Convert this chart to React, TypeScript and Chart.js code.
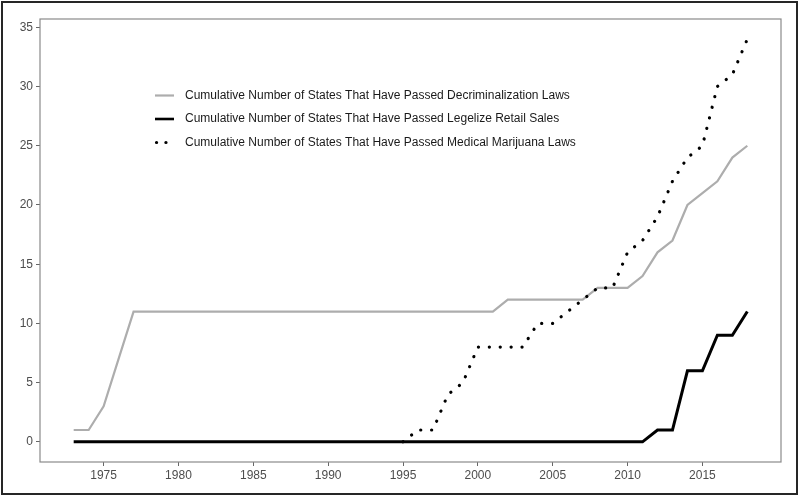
import { useEffect, useRef } from 'react';
import { Chart, registerables } from 'chart.js';

Chart.register(...registerables);

const years = [
  1973, 1974, 1975, 1976, 1977, 1978, 1979, 1980, 1981, 1982, 1983, 1984,
  1985, 1986, 1987, 1988, 1989, 1990, 1991, 1992, 1993, 1994, 1995, 1996,
  1997, 1998, 1999, 2000, 2001, 2002, 2003, 2004, 2005, 2006, 2007, 2008,
  2009, 2010, 2011, 2012, 2013, 2014, 2015, 2016, 2017, 2018,
];

const decriminalization = [
  1, 1, 3, 7,
  11, 11, 11, 11, 11, 11, 11, 11, 11, 11, 11, 11, 11, 11, 11, 11, 11, 11, 11, 11, 11, 11, 11, 11, 11,
  12, 12, 12, 12, 12, 12,
  13, 13, 13,
  14, 16, 17, 20, 21, 22, 24, 25,
];

const retailSales = [
  0, 0, 0, 0, 0, 0, 0, 0, 0, 0, 0, 0, 0, 0, 0, 0, 0, 0, 0, 0,
  0, 0, 0, 0, 0, 0, 0, 0, 0, 0, 0, 0, 0, 0, 0, 0, 0, 0, 0,
  1, 1, 6, 6, 9, 9, 11,
];

const medicalMarijuana: (number | null)[] = [
  null, null, null, null, null, null, null, null, null, null, null,
  null, null, null, null, null, null, null, null, null, null, null,
  0, 1, 1, 4, 5, 8, 8, 8, 8, 10, 10, 11, 12, 13, 13, 16, 17, 19, 22, 24, 25, 30, 31, 34,
];

const seriesLabels = [
  'Cumulative Number of States That Have Passed Decriminalization Laws',
  'Cumulative Number of States That Have Passed Legelize Retail Sales',
  'Cumulative Number of States That Have Passed Medical Marijuana Laws',
];

const xTickValues = [1975, 1980, 1985, 1990, 1995, 2000, 2005, 2010, 2015];
const yTickValues = [0, 5, 10, 15, 20, 25, 30, 35];

const FONT = '"Liberation Sans", Arial, Helvetica, sans-serif';

const toPoints = (vals: (number | null)[]) =>
  years.map((yr, i) => ({ x: yr, y: vals[i] }));

const framePlugin = {
  id: 'frameAndLegend',
  afterDraw(chart: any) {
    const { ctx, chartArea } = chart;
    ctx.save();
    // panel border
    ctx.strokeStyle = '#8a8a8a';
    ctx.lineWidth = 1.2;
    ctx.strokeRect(chartArea.left, chartArea.top, chartArea.right - chartArea.left, chartArea.bottom - chartArea.top);
    // outer frame
    ctx.strokeStyle = '#262626';
    ctx.lineWidth = 2;
    ctx.strokeRect(2, 2, 795, 492);

    // legend inside panel
    const x0 = chartArea.left + 115;
    const y0 = chartArea.top + 76.5;
    const rowGap = 23.5;
    chart.data.datasets.forEach((ds: any, i: number) => {
      const y = y0 + i * rowGap;
      ctx.beginPath();
      ctx.strokeStyle = ds.borderColor;
      ctx.lineWidth = ds.legendWidth;
      ctx.lineCap = ds.borderCapStyle || 'butt';
      if (ds.borderDash && ds.borderDash.length) {
        ctx.setLineDash([0.1, 9.3]);
        ctx.moveTo(x0 + 1.5, y);
      } else {
        ctx.setLineDash([]);
        ctx.moveTo(x0, y);
      }
      ctx.lineTo(x0 + 19, y);
      ctx.stroke();
      ctx.setLineDash([]);
      ctx.fillStyle = '#1a1a1a';
      ctx.font = `12px ${FONT}`;
      ctx.textBaseline = 'middle';
      ctx.textAlign = 'left';
      ctx.fillText(ds.label, x0 + 30, y);
    });
    ctx.restore();
  },
};

export default function App() {
  const ref = useRef<HTMLCanvasElement>(null);

  useEffect(() => {
    document.body.style.margin = '0';
    const canvas = ref.current!;
    const chart = new Chart(canvas, {
      type: 'line',
      data: {
        datasets: [
          {
            label: seriesLabels[0],
            data: toPoints(decriminalization),
            borderColor: '#adadad',
            borderWidth: 2.2,
            legendWidth: 2.2,
            pointRadius: 0,
            order: 2,
          } as any,
          {
            label: seriesLabels[1],
            data: toPoints(retailSales),
            borderColor: '#000000',
            borderWidth: 3,
            legendWidth: 2.6,
            pointRadius: 0,
            order: 1,
          } as any,
          {
            label: seriesLabels[2],
            data: toPoints(medicalMarijuana),
            borderColor: '#000000',
            borderWidth: 3.2,
            legendWidth: 3.2,
            borderDash: [0.1, 10.8],
            borderCapStyle: 'round',
            pointRadius: 0,
            order: 0,
          } as any,
        ],
      },
      options: {
        responsive: false,
        maintainAspectRatio: false,
        animation: false,
        layout: { padding: { top: 19, right: 19, left: 0, bottom: 0 } },
        elements: { line: { tension: 0 }, point: { radius: 0 } },
        plugins: {
          legend: { display: false },
          tooltip: { enabled: false },
        },
        scales: {
          x: {
            type: 'linear',
            min: 1970.75,
            max: 2020.25,
            afterBuildTicks: (s: any) => {
              s.ticks = xTickValues.map((v) => ({ value: v }));
            },
            afterFit: (s: any) => {
              s.height = 35;
            },
            ticks: {
              callback: (v: any) => String(v),
              color: '#4d4d4d',
              font: { family: FONT, size: 12 },
              padding: 2,
              maxRotation: 0,
              autoSkip: false,
            },
            grid: { drawOnChartArea: false, drawTicks: true, tickLength: 4, color: '#666666', lineWidth: 1 },
            border: { display: false },
          },
          y: {
            type: 'linear',
            min: -1.7,
            max: 35.7,
            afterBuildTicks: (s: any) => {
              s.ticks = yTickValues.map((v) => ({ value: v }));
            },
            afterFit: (s: any) => {
              s.width = 40;
            },
            ticks: {
              color: '#4d4d4d',
              font: { family: FONT, size: 12 },
              padding: 3,
            },
            grid: { drawOnChartArea: false, drawTicks: true, tickLength: 4, color: '#666666', lineWidth: 1 },
            border: { display: false },
          },
        },
      } as any,
      plugins: [framePlugin],
    });
    return () => chart.destroy();
  }, []);

  return (
    <div style={{ width: 800, height: 497, position: 'relative', background: '#ffffff' }}>
      <canvas ref={ref} width={800} height={497} style={{ display: 'block' }} />
    </div>
  );
}
